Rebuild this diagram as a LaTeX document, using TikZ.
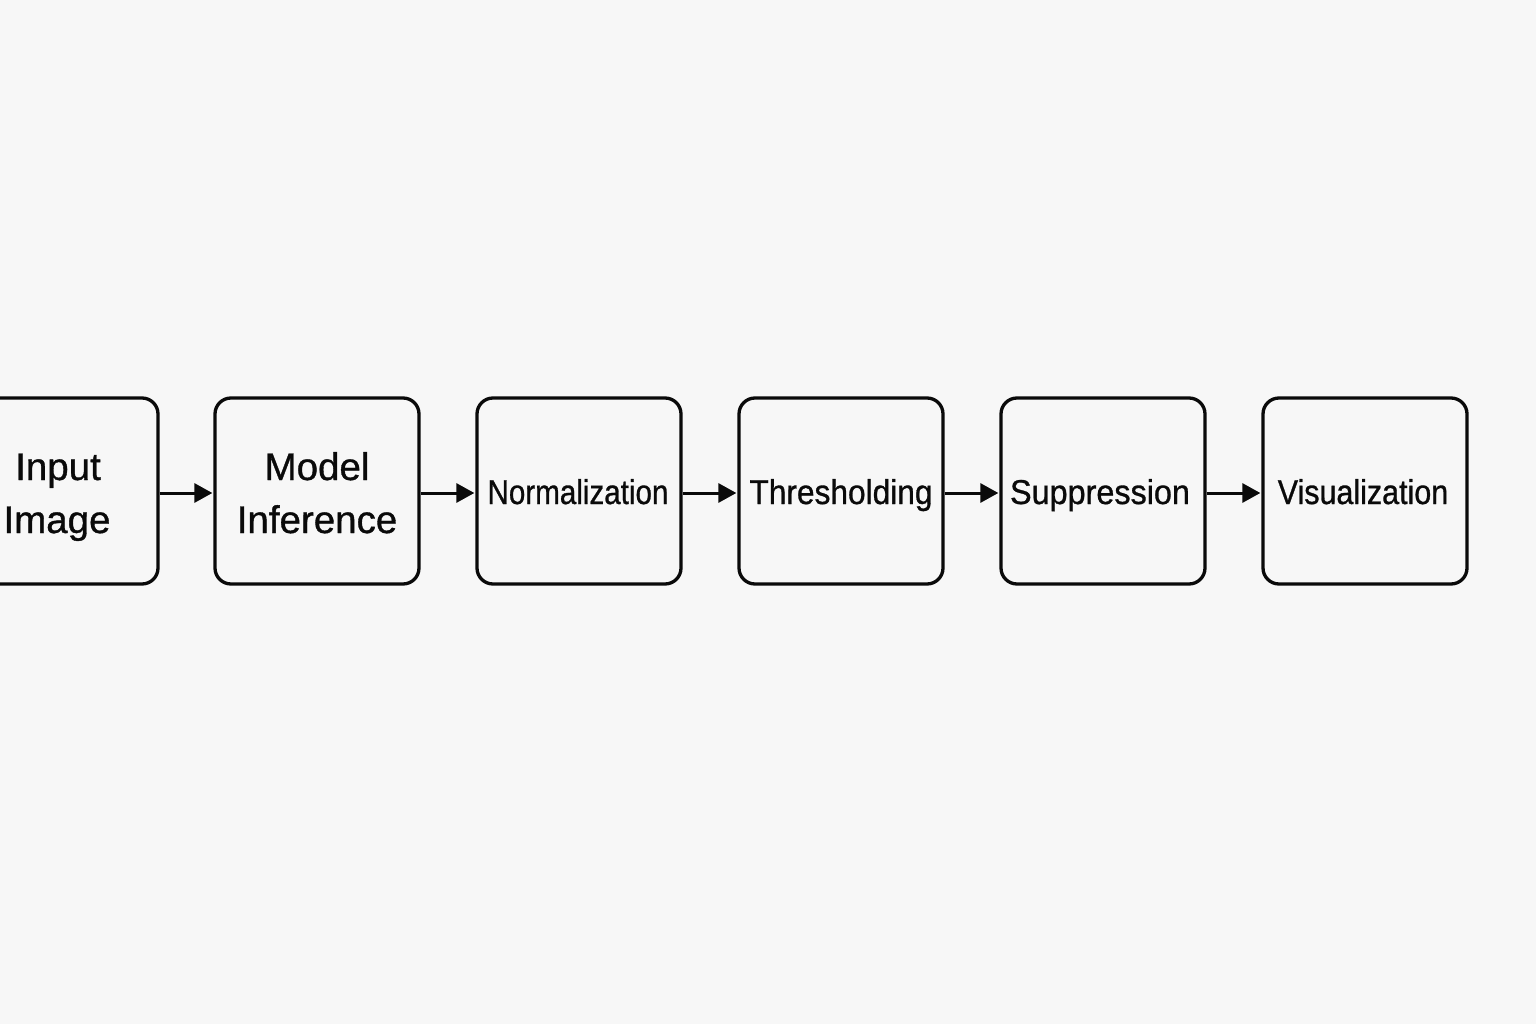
\documentclass[tikz,border=0pt]{standalone}
\usepackage{fontspec}
\setmainfont{Liberation Sans}[BoldFont=Liberation Sans, BoldFeatures={FakeBold=0.9}]
\usetikzlibrary{arrows.meta}
\definecolor{bg}{RGB}{247,247,247}
\definecolor{ink}{RGB}{10,10,10}
\tikzset{
  stagebox/.style={draw=ink, line width=3.3pt, rounded corners=16pt, minimum width=204pt, minimum height=186pt, inner sep=0pt, fill=bg},
  biglbl/.style={text=ink, font=\fontsize{38.5}{53}\selectfont\bfseries, align=center, inner sep=0pt, anchor=base},
  smalllbl/.style={text=ink, font=\fontsize{34.5}{40}\selectfont\bfseries, inner sep=0pt, anchor=base},
  flow/.style={draw=ink, line width=3pt, -{Triangle[length=18pt,width=19pt]}, shorten >=1pt}
}
\begin{document}
\begin{tikzpicture}[x=1pt,y=-1pt]
\path[fill=bg] (0,0) rectangle (1536,1024);
\useasboundingbox (0,0) rectangle (1536,1024);
\node[stagebox] (b1) at (56,491) {};
\node[stagebox] (b2) at (317,491) {};
\node[stagebox] (b3) at (579,491) {};
\node[stagebox] (b4) at (841,491) {};
\node[stagebox] (b5) at (1103,491) {};
\node[stagebox] (b6) at (1365,491) {};
\node[biglbl] (t1a) at (58,480) {Input};
\node[biglbl] (t1b) at (57,533) {Image};
\node[biglbl] (t2a) at (317,480) {Model};
\node[biglbl] (t2b) at (317,533) {Inference};
\node[smalllbl] (t3) at (578,504) {\scalebox{0.858}[1]{Normalization}};
\node[smalllbl] (t4) at (841,504) {\scalebox{0.918}[1]{Thresholding}};
\node[smalllbl] (t5) at (1100,504) {\scalebox{0.938}[1]{Suppression}};
\node[smalllbl] (t6) at (1363,504) {\scalebox{0.883}[1]{Visualization}};
\draw[flow] ([yshift=-2pt]b1.east) -- ([yshift=-2pt]b2.west);
\draw[flow] ([yshift=-2pt]b2.east) -- ([yshift=-2pt]b3.west);
\draw[flow] ([yshift=-2pt]b3.east) -- ([yshift=-2pt]b4.west);
\draw[flow] ([yshift=-2pt]b4.east) -- ([yshift=-2pt]b5.west);
\draw[flow] ([yshift=-2pt]b5.east) -- ([yshift=-2pt]b6.west);
\end{tikzpicture}
\end{document}
